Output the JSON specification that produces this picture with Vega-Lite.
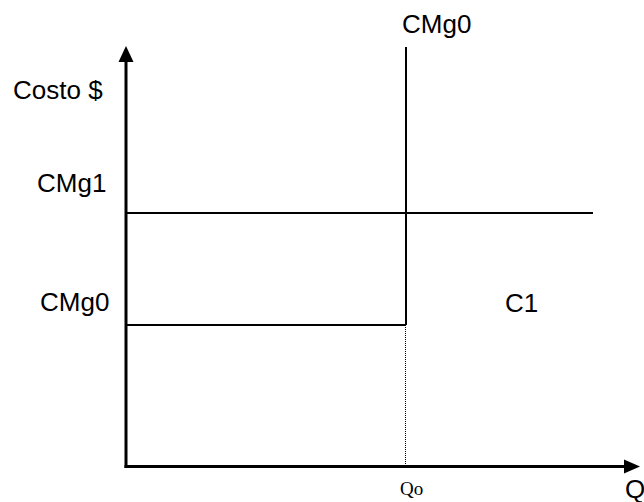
{
  "$schema": "https://vega.github.io/schema/vega-lite/v6.json",
  "width": 644,
  "height": 502,
  "autosize": "none",
  "padding": 0,
  "background": "white",
  "config": {"view": {"stroke": null}},
  "datasets": {
    "axes": [
      {"seg": "Costo", "x": 0, "x2": 0, "y": -1.5, "y2": 412},
      {"seg": "Q", "x": -1.5, "x2": 506, "y": 0, "y2": 0}
    ],
    "arrowsUp": [{"x": 0, "y": 412.5}],
    "arrowsRight": [{"x": 506, "y": 0}],
    "curves": [
      {"seg": "CMg0 vertical", "x": 280, "x2": 280, "y": 141.5, "y2": 419.5},
      {"seg": "CMg1", "x": 0, "x2": 467, "y": 253.5, "y2": 253.5},
      {"seg": "CMg0", "x": 0, "x2": 280, "y": 141.5, "y2": 141.5}
    ],
    "dotted": [
      {"seg": "Qo", "x": 279.5, "x2": 279.5, "y": 141.5, "y2": 0.5}
    ],
    "labels": [
      {"label": "CMg0", "x": 276, "y": 433.5},
      {"label": "Costo $", "x": -113, "y": 367.5},
      {"label": "CMg1", "x": -89, "y": 274.5},
      {"label": "CMg0", "x": -86, "y": 155.5},
      {"label": "C1", "x": 379, "y": 154.5},
      {"label": "Q", "x": 499, "y": -31}
    ],
    "serifLabels": [
      {"label": "Qo", "x": 274, "y": -28.5}
    ]
  },
  "layer": [
    {
      "data": {"name": "axes"},
      "mark": {"type": "rule", "color": "black", "strokeWidth": 3},
      "encoding": {
        "x": {"field": "x", "type": "quantitative", "scale": {"domain": [-126, 518], "nice": false, "zero": false}, "axis": null},
        "x2": {"field": "x2"},
        "y": {"field": "y", "type": "quantitative", "scale": {"domain": [-35.5, 466.5], "nice": false, "zero": false}, "axis": null},
        "y2": {"field": "y2"}
      }
    },
    {
      "data": {"name": "curves"},
      "mark": {"type": "rule", "color": "black", "strokeWidth": 2},
      "encoding": {
        "x": {"field": "x", "type": "quantitative"},
        "x2": {"field": "x2"},
        "y": {"field": "y", "type": "quantitative"},
        "y2": {"field": "y2"}
      }
    },
    {
      "data": {"name": "dotted"},
      "mark": {"type": "rule", "color": "black", "strokeWidth": 1, "strokeDash": [1, 1]},
      "encoding": {
        "x": {"field": "x", "type": "quantitative"},
        "x2": {"field": "x2"},
        "y": {"field": "y", "type": "quantitative"},
        "y2": {"field": "y2"}
      }
    },
    {
      "data": {"name": "arrowsUp"},
      "mark": {"type": "point", "shape": "M0,-1L0.94,1L-0.94,1Z", "size": 256, "filled": true, "color": "black", "opacity": 1, "strokeWidth": 0},
      "encoding": {
        "x": {"field": "x", "type": "quantitative"},
        "y": {"field": "y", "type": "quantitative"}
      }
    },
    {
      "data": {"name": "arrowsRight"},
      "mark": {"type": "point", "shape": "M1,0L-1,0.875L-1,-0.875Z", "size": 256, "filled": true, "color": "black", "opacity": 1, "strokeWidth": 0},
      "encoding": {
        "x": {"field": "x", "type": "quantitative"},
        "y": {"field": "y", "type": "quantitative"}
      }
    },
    {
      "data": {"name": "labels"},
      "mark": {"type": "text", "align": "left", "baseline": "alphabetic", "font": "Liberation Sans", "fontSize": 26, "color": "black"},
      "encoding": {
        "x": {"field": "x", "type": "quantitative"},
        "y": {"field": "y", "type": "quantitative"},
        "text": {"field": "label"}
      }
    },
    {
      "data": {"name": "serifLabels"},
      "mark": {"type": "text", "align": "left", "baseline": "alphabetic", "font": "Liberation Serif", "fontSize": 19, "color": "black"},
      "encoding": {
        "x": {"field": "x", "type": "quantitative"},
        "y": {"field": "y", "type": "quantitative"},
        "text": {"field": "label"}
      }
    }
  ]
}
